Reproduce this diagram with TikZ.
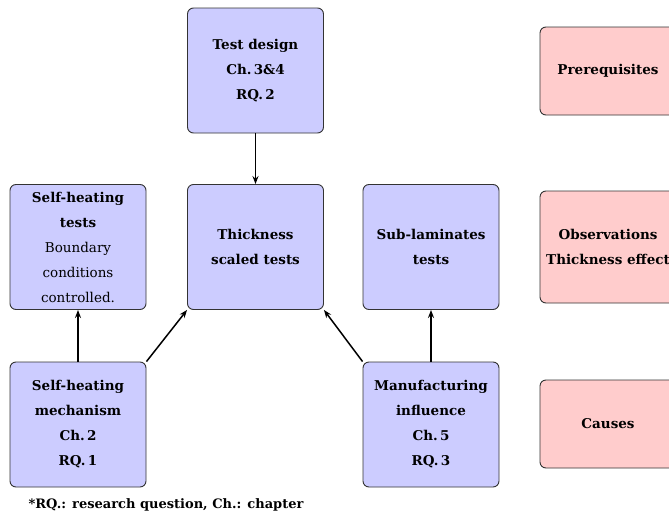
\documentclass[tikz,border=0pt]{standalone}
\usepackage{fontspec}
\setmainfont{DejaVu Serif}
\usetikzlibrary{arrows.meta}
\begin{document}
\begin{tikzpicture}[x=1pt,y=-1pt,
  box/.style={draw=black!80,line width=0.9pt,rounded corners=6pt,align=center,
    minimum width=136pt,minimum height=125pt,inner sep=2pt,
    font=\fontsize{13.5}{25}\selectfont},
  bluebox/.style={box,fill=blue!20},
  pinkbox/.style={box,fill=red!20,minimum height=88pt,font=\fontsize{13.5}{25}\selectfont\bfseries},
  arr/.style={-{Stealth[length=8pt,width=6pt]},line width=1.5pt}]
\useasboundingbox (0,0) rectangle (669,522);
\node[bluebox] (design) at (255.5,70.5) {\textbf{Test design}\\\textbf{Ch.\,3\&4}\\\textbf{RQ.\,2}};
\node[bluebox] (thick) at (255.5,247) {\textbf{Thickness}\\\textbf{scaled tests}};
\node[bluebox] (shtests) at (78,247) {\textbf{Self-heating}\\\textbf{tests}\\Boundary\\conditions\\controlled.};
\node[bluebox] (sublam) at (431,247) {\textbf{Sub-laminates}\\\textbf{tests}};
\node[bluebox] (mech) at (78,424.5) {\textbf{Self-heating}\\\textbf{mechanism}\\\textbf{Ch.\,2}\\\textbf{RQ.\,1}};
\node[bluebox] (manuf) at (431,424.5) {\textbf{Manufacturing}\\\textbf{influence}\\\textbf{Ch.\,5}\\\textbf{RQ.\,3}};
\node[pinkbox] (prereq) at (608,71) {Prerequisites};
\node[pinkbox,minimum height=112pt] (obs) at (608,247) {Observations\\Thickness effect};
\node[pinkbox] (causes) at (608,424) {Causes};
\node[anchor=base west,font=\fontsize{13}{16}\selectfont\bfseries] (note) at (25,508) {*RQ.: research question, Ch.: chapter};
\draw[arr] (design.south) -- (thick.north);
\draw[arr] (mech.north) -- (shtests.south);
\draw[arr] (manuf.north) -- (sublam.south);
\draw[arr] (mech.north east) -- (thick.south west);
\draw[arr] (manuf.north west) -- (thick.south east);
\end{tikzpicture}
\end{document}
